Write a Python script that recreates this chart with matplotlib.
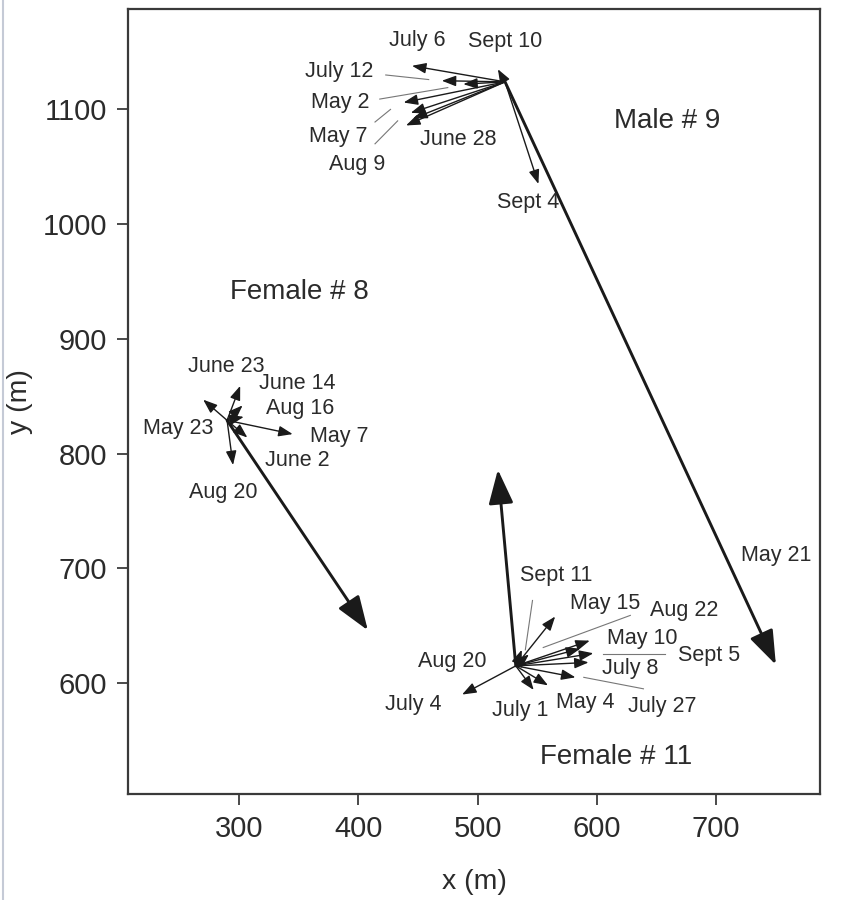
import matplotlib.pyplot as plt
from matplotlib.lines import Line2D

plt.rcParams['font.family'] = ['Liberation Sans', 'DejaVu Sans']

# Male # 9 : start point and end points of each move
male_start = (523, 1124)
male_dates = ["May 21", "Sept 4", "Sept 10", "July 6", "July 12", "", "May 2", "May 7", "Aug 9", "June 28"]
male_x = [750, 551, 517, 445, 470, 488, 438, 444, 446, 440]
male_y = [616, 1035, 1135, 1138, 1125, 1122, 1106, 1097, 1092, 1086]

# Female # 8
f8_start = (290, 829)
f8_dates = ["", "May 23", "June 23", "June 14", "Aug 16", "June 2", "May 7", "Aug 20"]
f8_x = [408, 270, 301, 303, 304, 307, 345, 295]
f8_y = [646, 847, 859, 842, 832, 814, 817, 790]

# Female # 11
f11_start = (532, 615)
f11_dates = ["", "July 4", "July 1", "May 4", "July 27", "July 8", "Sept 5", "May 10", "Aug 22", "May 15", "Sept 11", "Aug 20"]
f11_x = [517, 487, 547, 559, 582, 593, 597, 594, 586, 565, 537, 543]
f11_y = [786, 590, 594, 598, 605, 618, 626, 637, 630, 658, 629, 625]

# label placement (data coords)
male_lab = {"May 21": (750, 711), "Sept 4": (542, 1019), "Sept 10": (523, 1159), "July 6": (449, 1160),
            "July 12": (384, 1133), "May 2": (385, 1106), "May 7": (383, 1076), "Aug 9": (399, 1052),
            "June 28": (484, 1074)}
f8_lab = {"May 23": (249, 822), "June 23": (289, 876), "June 14": (349, 861), "Aug 16": (351, 839),
          "June 2": (349, 794), "May 7": (384, 815), "Aug 20": (287, 766)}
f11_lab = {"July 4": (446, 581), "July 1": (536, 576), "May 4": (590, 583), "July 27": (655, 580),
           "July 8": (628, 613), "Sept 5": (694, 624), "May 10": (638, 639), "Aug 22": (673, 663),
           "May 15": (607, 669), "Sept 11": (566, 694), "Aug 20": (479, 619)}

# thin leader lines from labels
leaders = [((423, 459), (1130, 1126)), ((418, 475), (1109, 1119)), ((414, 427), (1089, 1100)),
           ((414, 433), (1070, 1090)), ((546, 540), (672, 629)), ((628, 555), (659, 631)),
           ((605, 657), (625, 625)), ((639, 589), (595, 605))]

txt_col = '#2b2b2b'
arr_col = '#1a1a1a'

fig = plt.figure(figsize=(8.48, 9), dpi=100)
ax = fig.add_axes([0.151, 0.118, 0.816, 0.872])


def draw_group(start, xs, ys, dates, labels):
    for i, (x, y) in enumerate(zip(xs, ys)):
        big = abs(x - start[0]) + abs(y - start[1]) > 150
        if big:
            props = dict(arrowstyle='-|>,head_length=1.05,head_width=0.38', lw=2.1,
                         color=arr_col, mutation_scale=20, shrinkA=0, shrinkB=0)
        else:
            props = dict(arrowstyle='-|>,head_length=0.85,head_width=0.32', lw=1.0,
                         color=arr_col, mutation_scale=10, shrinkA=0, shrinkB=0)
        ax.annotate('', xy=(x, y), xytext=start, arrowprops=props)
        d = dates[i]
        if d in labels:
            lx, ly = labels[d]
            ax.text(lx, ly, d, fontsize=15.5, color=txt_col, ha='center', va='center')


draw_group(male_start, male_x, male_y, male_dates, male_lab)
draw_group(f8_start, f8_x, f8_y, f8_dates, f8_lab)
draw_group(f11_start, f11_x, f11_y, f11_dates, f11_lab)

for lx, ly in leaders:
    ax.plot(lx, ly, color='#777777', lw=0.8)

ax.text(659, 1090, "Male # 9", fontsize=20, color=txt_col, ha='center', va='center')
ax.text(351, 941, "Female # 8", fontsize=20, color=txt_col, ha='center', va='center')
ax.text(616, 536, "Female # 11", fontsize=20, color=txt_col, ha='center', va='center')

ax.set_xlim(207, 787)
ax.set_ylim(503.5, 1187.5)
ax.set_xticks([300, 400, 500, 600, 700])
ax.set_yticks([600, 700, 800, 900, 1000, 1100])
ax.tick_params(labelsize=21, colors=txt_col, length=8, width=1.2, pad=7)
for s in ax.spines.values():
    s.set_linewidth(1.6)
    s.set_color('#3a3a3a')
ax.set_xlabel("x (m)", fontsize=20.5, color=txt_col, labelpad=19)
ax.set_ylabel("y (m)", fontsize=20.5, color=txt_col)
ax.yaxis.set_label_coords(-0.138, 0.5)

fig.add_artist(Line2D([0.003, 0.003], [0, 1], color='#c5cad6', lw=1.5))

plt.savefig('out.png')
